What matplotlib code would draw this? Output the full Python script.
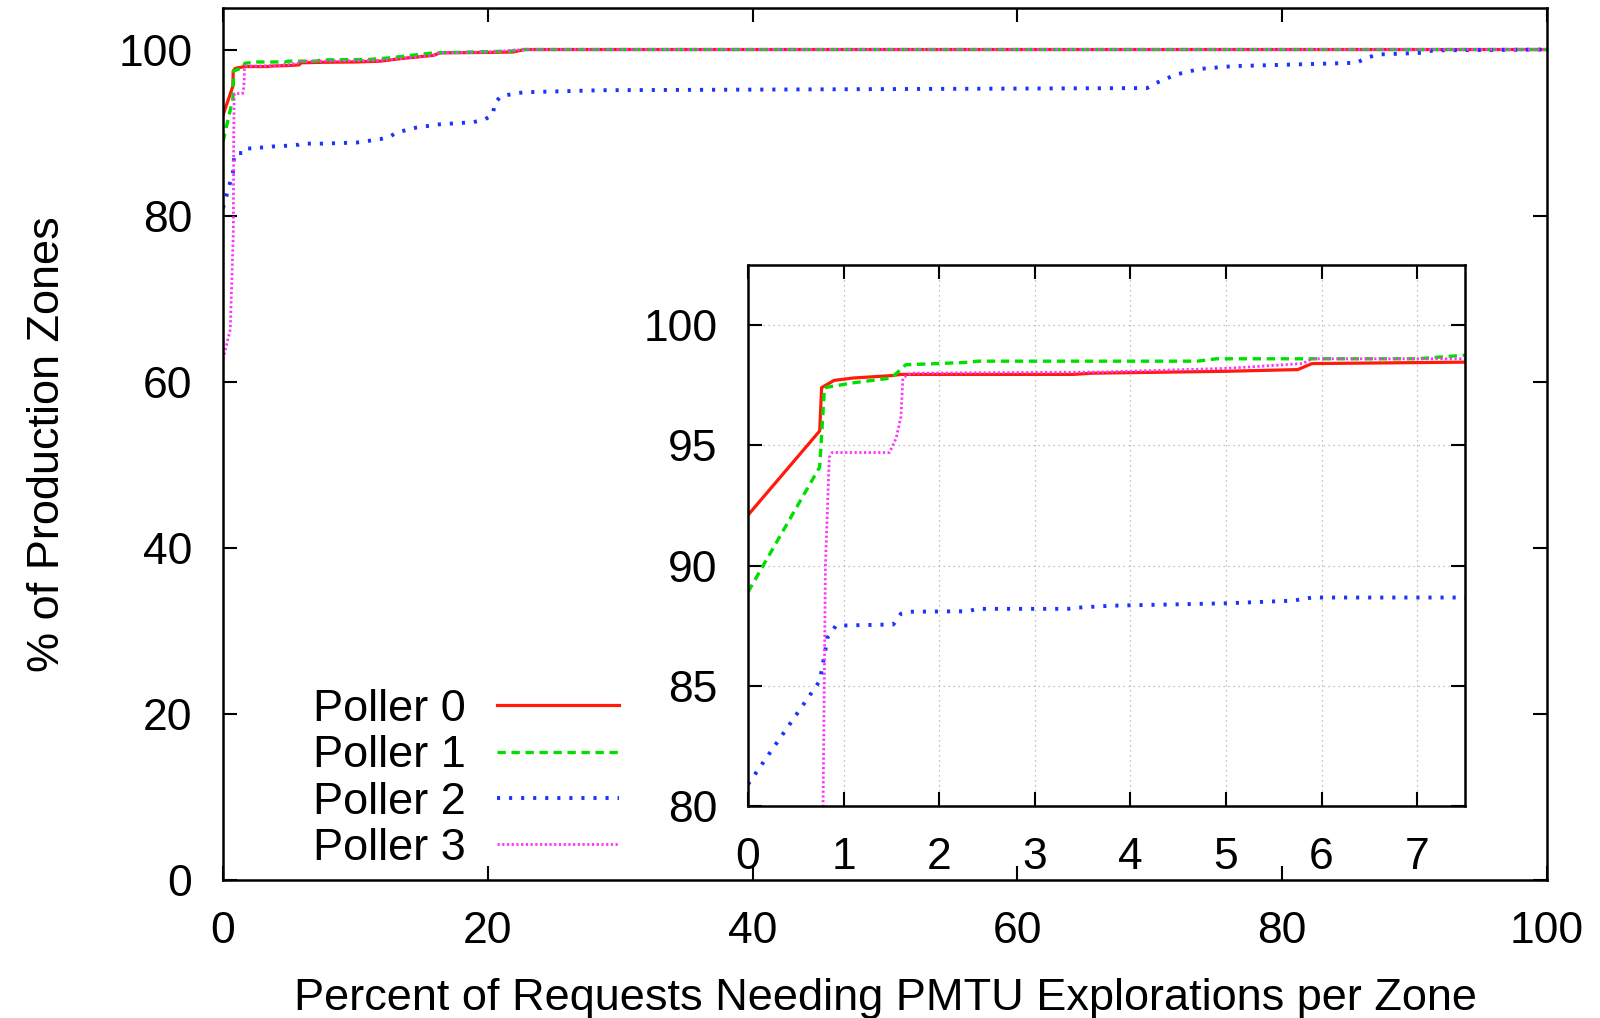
import matplotlib
matplotlib.use("Agg")
import matplotlib.pyplot as plt

plt.rcParams['font.family'] = ['Liberation Sans', 'DejaVu Sans']

# ---- data ----
p0_x = [0, 0.75, 0.77, 0.9, 1.1, 1.5, 1.6, 3.4, 3.6, 5.0, 5.75, 5.9, 7.5, 10, 11.9, 13.4, 15.9, 16.4, 20, 21.9, 22.8, 100]
p0_y = [92.1, 95.6, 97.4, 97.7, 97.8, 97.9, 97.95, 97.95, 98.0, 98.08, 98.15, 98.4, 98.46, 98.5, 98.6, 98.9, 99.3, 99.6, 99.65, 99.7, 100, 100]

p1_x = [0, 0.75, 0.8, 1.1, 1.5, 1.65, 2.3, 2.4, 4.7, 4.9, 7.0, 7.5, 11, 12.6, 15.9, 21.7, 22.4, 100]
p1_y = [88.9, 94.1, 97.4, 97.6, 97.8, 98.35, 98.45, 98.5, 98.5, 98.6, 98.6, 98.75, 98.8, 99.0, 99.6, 99.8, 100, 100]

p2_x = [0, 0.75, 0.81, 0.83, 0.92, 1.52, 1.6, 1.7, 2.3, 2.4, 3.35, 3.45, 3.8, 5.0, 5.7, 5.9, 7.5,
        10.1, 11.85, 12.6, 13.1, 14.6, 16.4, 18.9, 19.8, 20.4, 20.5, 21.0, 22.7, 28.5, 69.8, 70.5,
        72, 73.8, 76.3, 85.6, 86.4, 87.2, 90.6, 91.4, 100]
p2_y = [80.9, 85.2, 86.5, 87.0, 87.5, 87.55, 88.0, 88.08, 88.1, 88.2, 88.2, 88.25, 88.33, 88.43, 88.54, 88.67, 88.67,
        88.8, 89.2, 89.5, 90.0, 90.6, 91.0, 91.25, 91.6, 92.2, 93.5, 94.4, 94.85, 95.1, 95.36, 95.98,
        97.0, 97.67, 98.0, 98.4, 99.0, 99.4, 99.6, 99.9, 100]

p3_x = [0, 0.55, 0.78, 0.81, 0.85, 0.88, 1.48, 1.55, 1.6, 1.62, 1.7, 3.7, 5.0, 5.8, 5.9, 7.5, 11.9, 13.4, 15.9, 16.4, 20, 22.8, 100]
p3_y = [62.7, 66.3, 78.0, 90.0, 94.5, 94.7, 94.7, 95.3, 96.2, 97.8, 98.0, 98.05, 98.2, 98.4, 98.6, 98.6, 98.7, 98.9, 99.3, 99.6, 99.7, 100, 100]

labels = ["Poller 0", "Poller 1", "Poller 2", "Poller 3"]
main_xticks = [0, 20, 40, 60, 80, 100]
main_yticks = [0, 20, 40, 60, 80, 100]
inset_xticks = [0, 1, 2, 3, 4, 5, 6, 7]
inset_yticks = [80, 85, 90, 95, 100]

series = [(p0_x, p0_y), (p1_x, p1_y), (p2_x, p2_y), (p3_x, p3_y)]
styles = [
    dict(color='#ff1a0a', lw=2.3, linestyle='-'),
    dict(color='#00e000', lw=2.4, linestyle=(0, (2.5, 1.7))),
    dict(color='#1a33ff', lw=2.8, linestyle=(0, (0.8, 2.3))),
    dict(color='#ff33ff', lw=2.0, linestyle=(0, (0.8, 0.9))),
]

FS = 32.5
TFS = 32

fig = plt.figure(figsize=(16, 10.18), dpi=100)
ax = fig.add_axes([223/1600, 1-880/1018, (1547-223)/1600, (880-8)/1018])

handles = []
for (x, y), st, lab in zip(series, styles, labels):
    h, = ax.plot(x, y, label=lab, **st)
    handles.append(h)

ax.set_xlim(0, 100)
ax.set_ylim(0, 105)
ax.set_xticks(main_xticks)
ax.set_yticks(main_yticks)
ax.tick_params(direction='in', top=True, right=True, length=10, width=1.5,
               labelsize=TFS, pad=22)
for sp in ax.spines.values():
    sp.set_linewidth(1.8)
ax.set_xlabel("Percent of Requests Needing PMTU Explorations per Zone", fontsize=FS)
ax.set_ylabel("% of Production Zones", fontsize=FS)
ax.xaxis.set_label_coords(0.5, (878-976)/872)
ax.yaxis.set_label_coords((68-223)/1324, 0.5)

leg = ax.legend(handles, labels, loc='upper left',
                bbox_to_anchor=(313/1600, 1-689/1018), bbox_transform=fig.transFigure,
                frameon=False, fontsize=FS, borderpad=0, borderaxespad=0,
                markerfirst=False, handlelength=2.7, handletextpad=0.7,
                labelspacing=0.12)

# ---- inset ----
axi = fig.add_axes([748/1600, 1-806/1018, (1465-748)/1600, (806-265)/1018])
axi.set_facecolor('white')
for (x, y), st in zip(series, styles):
    axi.plot(x, y, **st)
axi.set_xlim(0, 7.5)
axi.set_ylim(80, 102.5)
axi.set_xticks(inset_xticks)
axi.set_yticks(inset_yticks)
axi.tick_params(direction='in', top=True, right=True, length=10, width=1.5,
                labelsize=TFS, pad=22)
for sp in axi.spines.values():
    sp.set_linewidth(1.8)
axi.grid(True, linestyle=(0, (1, 3)), color='#b0b0b0', lw=0.9)
axi.set_axisbelow(True)

fig.savefig("out.png", dpi=100)
